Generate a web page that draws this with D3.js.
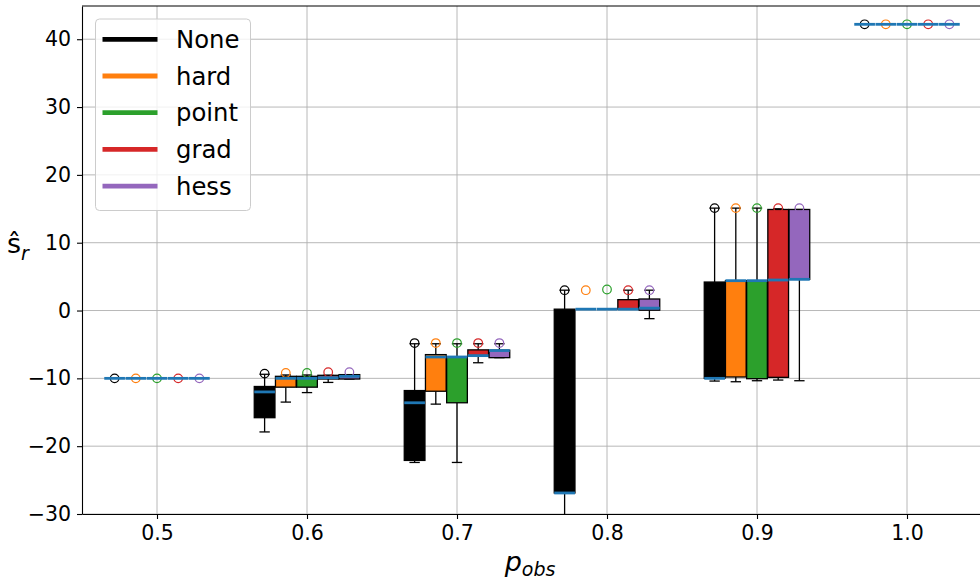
<!DOCTYPE html>
<html lang="en">
<head>
<meta charset="utf-8">
<title>s_r vs p_obs</title>
<script src="https://d3js.org/d3.v7.min.js"></script>
<style>
  body { margin: 0; background: #fff; }
  text { font-family: "DejaVu Sans", sans-serif; fill: #000; }
</style>
</head>
<body>
<script>
const groups = [0.5, 0.6, 0.7, 0.8, 0.9, 1.0];
const seriesNames = ["None", "hard", "point", "grad", "hess"];
const seriesColors = ["#000000", "#ff7f0e", "#2ca02c", "#d62728", "#9467bd"];

// each row: [whisker low, q1, median, q3, whisker high], one row per p_obs
const boxNone = [
  [-10, -10, -10, -10, -10],
  [-17.9, -15.8, -12.0, -11.2, -9.4],
  [-22.4, -22.1, -13.6, -11.8, -4.9],
  [-33, -26.9, -26.9, 0.2, 3.0],
  [-10.4, -10.0, -10.0, 4.2, 15.1],
  [42.2, 42.2, 42.2, 42.2, 42.2]
];
const boxHard = [
  [-10, -10, -10, -10, -10],
  [-13.5, -11.3, -10.0, -9.7, -9.5],
  [-13.8, -11.9, -6.85, -6.5, -4.9],
  [0.2, 0.2, 0.2, 0.2, 0.2],
  [-10.5, -9.8, 4.4, 4.4, 15.1],
  [42.2, 42.2, 42.2, 42.2, 42.2]
];
const boxPoint = [
  [-10, -10, -10, -10, -10],
  [-12.1, -11.3, -10.0, -9.7, -9.5],
  [-22.4, -13.6, -6.85, -6.85, -4.9],
  [0.2, 0.2, 0.2, 0.2, 0.2],
  [-10.35, -10.05, 4.4, 4.4, 15.1],
  [42.2, 42.2, 42.2, 42.2, 42.2]
];
const boxGrad = [
  [-10, -10, -10, -10, -10],
  [-10.6, -10.1, -9.9, -9.55, -9.55],
  [-7.7, -6.75, -6.65, -5.8, -4.9],
  [0.2, 0.2, 0.2, 1.6, 3.0],
  [-10.25, -9.85, 4.5, 14.9, 15.0],
  [42.2, 42.2, 42.2, 42.2, 42.2]
];
const boxHess = [
  [-10, -10, -10, -10, -10],
  [-10.1, -10.1, -9.7, -9.45, -9.45],
  [-6.95, -6.95, -5.9, -5.85, -4.9],
  [-1.2, 0.05, 0.35, 1.7, 3.0],
  [-10.35, 4.6, 4.6, 14.9, 14.9],
  [42.2, 42.2, 42.2, 42.2, 42.2]
];

// outliers, one per p_obs
const fliersNone = [-10, -9.3, -4.8, 3.0, 15.1, 42.2];
const fliersHard = [-10, -9.2, -4.8, 3.0, 15.1, 42.2];
const fliersPoint = [-10, -9.2, -4.8, 3.1, 15.1, 42.2];
const fliersGrad = [-10, -9.1, -4.8, 3.0, 15.1, 42.2];
const fliersHess = [-10, -9.1, -4.8, 3.0, 15.1, 42.2];

const yTicks = [-30, -20, -10, 0, 10, 20, 30, 40];
const xTickLabels = ["0.5", "0.6", "0.7", "0.8", "0.9", "1.0"];

const boxes = [boxNone, boxHard, boxPoint, boxGrad, boxHess];
const fliers = [fliersNone, fliersHard, fliersPoint, fliersGrad, fliersHess];

var width = 980,
    height = 581,
    plotLeft = 82,
    plotRight = 982,
    plotTop = 6,
    plotBottom = 514;

var offset = 0.01413,
    boxW = 0.0138;

var x = d3.scaleLinear().domain([0.45, 1.05]).range([plotLeft, plotRight]);
var y = d3.scaleLinear().domain([-30, 44.9]).range([plotBottom, plotTop]);

var svg = d3.select("body").append("svg")
    .attr("width", width)
    .attr("height", height);

svg.append("defs").append("clipPath")
    .attr("id", "plotclip")
  .append("rect")
    .attr("x", plotLeft)
    .attr("y", plotTop)
    .attr("width", plotRight - plotLeft)
    .attr("height", plotBottom - plotTop);

// grid
var grid = svg.append("g").attr("id", "grid");
grid.selectAll("line.gx").data(groups).enter().append("line")
    .attr("x1", d => x(d)).attr("x2", d => x(d))
    .attr("y1", plotTop).attr("y2", plotBottom)
    .attr("stroke", "#b0b0b0").attr("stroke-width", 0.9);
grid.selectAll("line.gy").data(yTicks).enter().append("line")
    .attr("x1", plotLeft).attr("x2", plotRight)
    .attr("y1", d => y(d)).attr("y2", d => y(d))
    .attr("stroke", "#b0b0b0").attr("stroke-width", 0.9);

var plot = svg.append("g").attr("clip-path", "url(#plotclip)");

boxes.forEach(function(series, s) {
  series.forEach(function(st, i) {
    var cx = groups[i] + (s - 2) * offset;
    var px = x(cx);
    var half = (x(cx + boxW / 2) - x(cx - boxW / 2)) / 2;
    var g = plot.append("g");

    // whiskers
    g.append("line")
        .attr("x1", px).attr("x2", px)
        .attr("y1", y(st[1])).attr("y2", y(st[0]))
        .attr("stroke", "#000").attr("stroke-width", 1.3);
    g.append("line")
        .attr("x1", px).attr("x2", px)
        .attr("y1", y(st[3])).attr("y2", y(st[4]))
        .attr("stroke", "#000").attr("stroke-width", 1.3);
    // caps
    [st[0], st[4]].forEach(function(v) {
      g.append("line")
          .attr("x1", px - half / 2).attr("x2", px + half / 2)
          .attr("y1", y(v)).attr("y2", y(v))
          .attr("stroke", "#000").attr("stroke-width", 1.3);
    });
    // box
    g.append("rect")
        .attr("x", px - half)
        .attr("y", y(st[3]))
        .attr("width", half * 2)
        .attr("height", Math.max(0, y(st[1]) - y(st[3])))
        .attr("fill", seriesColors[s])
        .attr("stroke", "#000")
        .attr("stroke-width", 1.3);
    // flier
    g.append("circle")
        .attr("cx", px)
        .attr("cy", y(fliers[s][i]))
        .attr("r", 4.3)
        .attr("fill", "none")
        .attr("stroke", seriesColors[s])
        .attr("stroke-width", 1.2);
  });
});

// medians sit above everything else
var medianLayer = plot.append("g").attr("id", "medians");
boxes.forEach(function(series, s) {
  series.forEach(function(st, i) {
    var cx = groups[i] + (s - 2) * offset;
    medianLayer.append("line")
        .attr("x1", x(cx - boxW / 2))
        .attr("x2", x(cx + boxW / 2))
        .attr("y1", y(st[2]))
        .attr("y2", y(st[2]))
        .attr("stroke", "#1f77b4")
        .attr("stroke-width", 2.8);
  });
});

// axes
var xAxis = svg.append("g")
    .attr("transform", "translate(0," + plotBottom + ")")
    .call(d3.axisBottom(x).tickValues(groups).tickFormat((d, i) => xTickLabels[i])
      .tickSizeInner(5).tickSizeOuter(0).tickPadding(6));
xAxis.select(".domain").attr("stroke-width", 1.1);
xAxis.selectAll(".tick line").attr("stroke-width", 1.1);
xAxis.selectAll("text")
    .attr("font-family", "DejaVu Sans")
    .attr("font-size", 20.5);

var yAxis = svg.append("g")
    .attr("transform", "translate(" + plotLeft + ",0)")
    .call(d3.axisLeft(y).tickValues(yTicks).tickFormat(d => d < 0 ? "\u2212" + Math.abs(d) : d)
      .tickSizeInner(5).tickSizeOuter(0).tickPadding(6));
yAxis.select(".domain").attr("stroke-width", 1.1);
yAxis.selectAll(".tick line").attr("stroke-width", 1.1);
yAxis.selectAll("text")
    .attr("font-family", "DejaVu Sans")
    .attr("font-size", 20.5);

// top spine
svg.append("line")
    .attr("x1", plotLeft).attr("x2", plotRight)
    .attr("y1", plotTop).attr("y2", plotTop)
    .attr("stroke", "#000").attr("stroke-width", 1.1);

// axis labels
var xl = svg.append("text")
    .attr("x", 530)
    .attr("y", 571)
    .attr("text-anchor", "middle")
    .attr("font-size", 27)
    .style("font-style", "italic");
xl.append("tspan").text("p");
xl.append("tspan").attr("dy", 5).attr("font-size", 19).text("obs");

var yl = svg.append("text")
    .attr("x", 7)
    .attr("y", 253)
    .attr("font-size", 27);
yl.append("tspan").text("\u015d");
yl.append("tspan").attr("dy", 7).attr("font-size", 19).style("font-style", "italic").text("r");

// legend
var legend = svg.append("g").attr("id", "legend");
legend.append("rect")
    .attr("x", 95.5).attr("y", 19)
    .attr("width", 155).attr("height", 191.5)
    .attr("rx", 4)
    .attr("fill", "rgba(255,255,255,0.8)")
    .attr("stroke", "#cccccc")
    .attr("stroke-width", 1);

var items = legend.selectAll("g.item").data(seriesNames).enter().append("g")
    .attr("transform", (d, i) => "translate(0," + (39.3 + i * 36.7) + ")");
items.append("line")
    .attr("x1", 102.5).attr("x2", 157.5)
    .attr("y1", 0).attr("y2", 0)
    .attr("stroke", (d, i) => seriesColors[i])
    .attr("stroke-width", 4.8);
items.append("text")
    .attr("x", 176)
    .attr("y", 8.5)
    .attr("font-size", 24.3)
    .text(d => d);
</script>
</body>
</html>
